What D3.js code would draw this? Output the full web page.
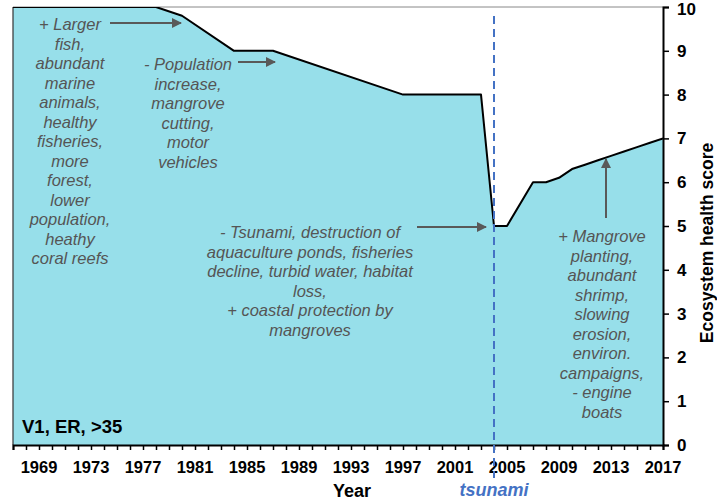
<!DOCTYPE html>
<html>
<head>
<meta charset="utf-8">
<script src="https://cdn.jsdelivr.net/npm/d3@7"></script>
<style>
  body { margin: 0; background: #fff; }
  svg text { font-family: "Liberation Sans", Arial, sans-serif; }
</style>
</head>
<body>
<svg width="717" height="500"></svg>
<script>
// ecosystem health score by year
let years  = [1967, 1978, 1980, 1984, 1987, 1997, 2003, 2004, 2005, 2007, 2008, 2009, 2010, 2011, 2012, 2013, 2014, 2015, 2016, 2017];
let scores = [10,   10,   9.8,  9,    9,    8,    8,    5,    5,    6,    6,    6.1,  6.3,  6.4,  6.5,  6.6,  6.7,  6.8,  6.9,  7];
let yTicks = [0, 1, 2, 3, 4, 5, 6, 7, 8, 9, 10];
let xLabels = [1969, 1973, 1977, 1981, 1985, 1989, 1993, 1997, 2001, 2005, 2009, 2013, 2017];
let tsunamiYear = 2004;

let note1 = ["+ Larger", "fish,", "abundant", "marine", "animals,", "healthy", "fisheries,", "more", "forest,", "lower", "population,", "heathy", "coral reefs"];
let note2 = ["- Population", "increase,", "mangrove", "cutting,", "motor", "vehicles"];
let note3 = ["- Tsunami, destruction of", "aquaculture ponds, fisheries", "decline, turbid water, habitat", "loss,", "+ coastal protection by", "mangroves"];
let note4 = ["+ Mangrove", "planting,", "abundant", "shrimp,", "slowing", "erosion,", "environ.", "campaigns,", "- engine", "boats"];

var svg = d3.select("svg"),
    width = +svg.attr("width"),
    height = +svg.attr("height");

var margin = {top: 7, right: 54, bottom: 55, left: 13};

var x = d3.scaleLinear()
    .domain([1967, 2017])
    .range([margin.left, width - margin.right]);
var y = d3.scaleLinear()
    .domain([0, 10])
    .range([height - margin.bottom, margin.top]);

var data = years.map((d, i) => ({year: d, score: scores[i]}));

svg.append("defs").append("clipPath").attr("id", "plot")
    .append("rect")
    .attr("x", x(1967)).attr("y", y(10))
    .attr("width", x(2017) - x(1967)).attr("height", y(0) - y(10));

svg.append("defs").append("marker")
    .attr("id", "head")
    .attr("viewBox", "0 0 10 10")
    .attr("refX", 9).attr("refY", 5)
    .attr("markerWidth", 5).attr("markerHeight", 5)
    .attr("orient", "auto")
    .append("path")
    .attr("d", "M0,0L10,5L0,10z")
    .attr("fill", "#595959");

// area + line
svg.append("path")
    .datum(data)
    .attr("fill", "#97dfea")
    .attr("d", d3.area().x(d => x(d.year)).y0(y(0)).y1(d => y(d.score)));

// frame top / left
svg.append("line")
    .attr("x1", x(1967)).attr("x2", x(2017))
    .attr("y1", y(10)).attr("y2", y(10))
    .attr("stroke", "#888").attr("stroke-width", 1);
svg.append("line")
    .attr("x1", x(1967)).attr("x2", x(1967))
    .attr("y1", y(10)).attr("y2", y(0))
    .attr("stroke", "#333").attr("stroke-width", 1.2);

svg.append("path")
    .datum(data)
    .attr("clip-path", "url(#plot)")
    .attr("fill", "none")
    .attr("stroke", "#000")
    .attr("stroke-width", 2)
    .attr("stroke-linejoin", "round")
    .attr("d", d3.line().x(d => x(d.year)).y(d => y(d.score)));

// x axis
var xAxis = svg.append("g")
    .attr("transform", "translate(0," + y(0) + ")")
    .call(d3.axisBottom(x).tickValues(d3.range(1967, 2018)).tickSize(5).tickFormat(""));
xAxis.select(".domain").attr("stroke", "#000").attr("stroke-width", 2);
xAxis.selectAll(".tick line").attr("stroke", "#000").attr("stroke-width", 1.5);

svg.append("g")
    .selectAll("text")
    .data(xLabels)
    .enter().append("text")
    .attr("x", d => x(d))
    .attr("y", y(0) + 28)
    .attr("text-anchor", "middle")
    .attr("font-size", "16.5px")
    .attr("font-weight", "bold")
    .attr("fill", "#000")
    .text(d => d);

svg.append("text")
    .attr("x", 352).attr("y", 497)
    .attr("text-anchor", "middle")
    .attr("font-size", "18px")
    .attr("font-weight", "bold")
    .text("Year");

// y axis (right)
var yAxis = svg.append("g")
    .attr("transform", "translate(" + x(2017) + ",0)")
    .call(d3.axisRight(y).tickValues(yTicks).tickSize(6).tickPadding(8));
yAxis.select(".domain").attr("stroke", "#000").attr("stroke-width", 2);
yAxis.selectAll(".tick line").attr("stroke", "#000").attr("stroke-width", 1.5);
yAxis.selectAll(".tick text")
    .attr("font-size", "17px")
    .attr("font-weight", "bold")
    .attr("fill", "#000")
    .attr("dy", d => d === 10 ? "0.45em" : "0.32em");

svg.append("text")
    .attr("transform", "translate(713,243) rotate(-90)")
    .attr("text-anchor", "middle")
    .attr("font-size", "17.5px")
    .attr("font-weight", "bold")
    .text("Ecosystem health score");

// tsunami marker
svg.append("line")
    .attr("x1", x(tsunamiYear)).attr("x2", x(tsunamiYear))
    .attr("y1", 16).attr("y2", 478)
    .attr("stroke", "#4472c4")
    .attr("stroke-width", 2)
    .attr("stroke-dasharray", "8,5");
svg.append("text")
    .attr("x", x(tsunamiYear)).attr("y", 496)
    .attr("text-anchor", "middle")
    .attr("font-size", "18px")
    .attr("font-weight", "bold")
    .attr("font-style", "italic")
    .attr("fill", "#4472c4")
    .text("tsunami");

svg.append("text")
    .attr("x", 22).attr("y", 433)
    .attr("font-size", "18.5px")
    .attr("font-weight", "bold")
    .text("V1, ER, >35");

// annotations
function note(lines, cx, cy) {
    svg.append("g").selectAll("text")
        .data(lines)
        .enter().append("text")
        .attr("x", cx)
        .attr("y", (d, i) => cy + i * 19.5 + 6)
        .attr("text-anchor", "middle")
        .attr("font-size", "16.5px")
        .attr("font-style", "italic")
        .attr("fill", "#555")
        .text(d => d);
}
note(note1, 70, 24);
note(note2, 188, 64);
note(note3, 310, 232);
note(note4, 602, 236);

function arrow(x1, y1, x2, y2) {
    svg.append("line")
        .attr("x1", x1).attr("y1", y1).attr("x2", x2).attr("y2", y2)
        .attr("stroke", "#595959")
        .attr("stroke-width", 2)
        .attr("marker-end", "url(#head)");
}
arrow(110, 23, 181, 23);
arrow(238, 62, 275, 62);
arrow(417, 227, 486, 227);
arrow(606, 218, 606, 159);
</script>
</body>
</html>
